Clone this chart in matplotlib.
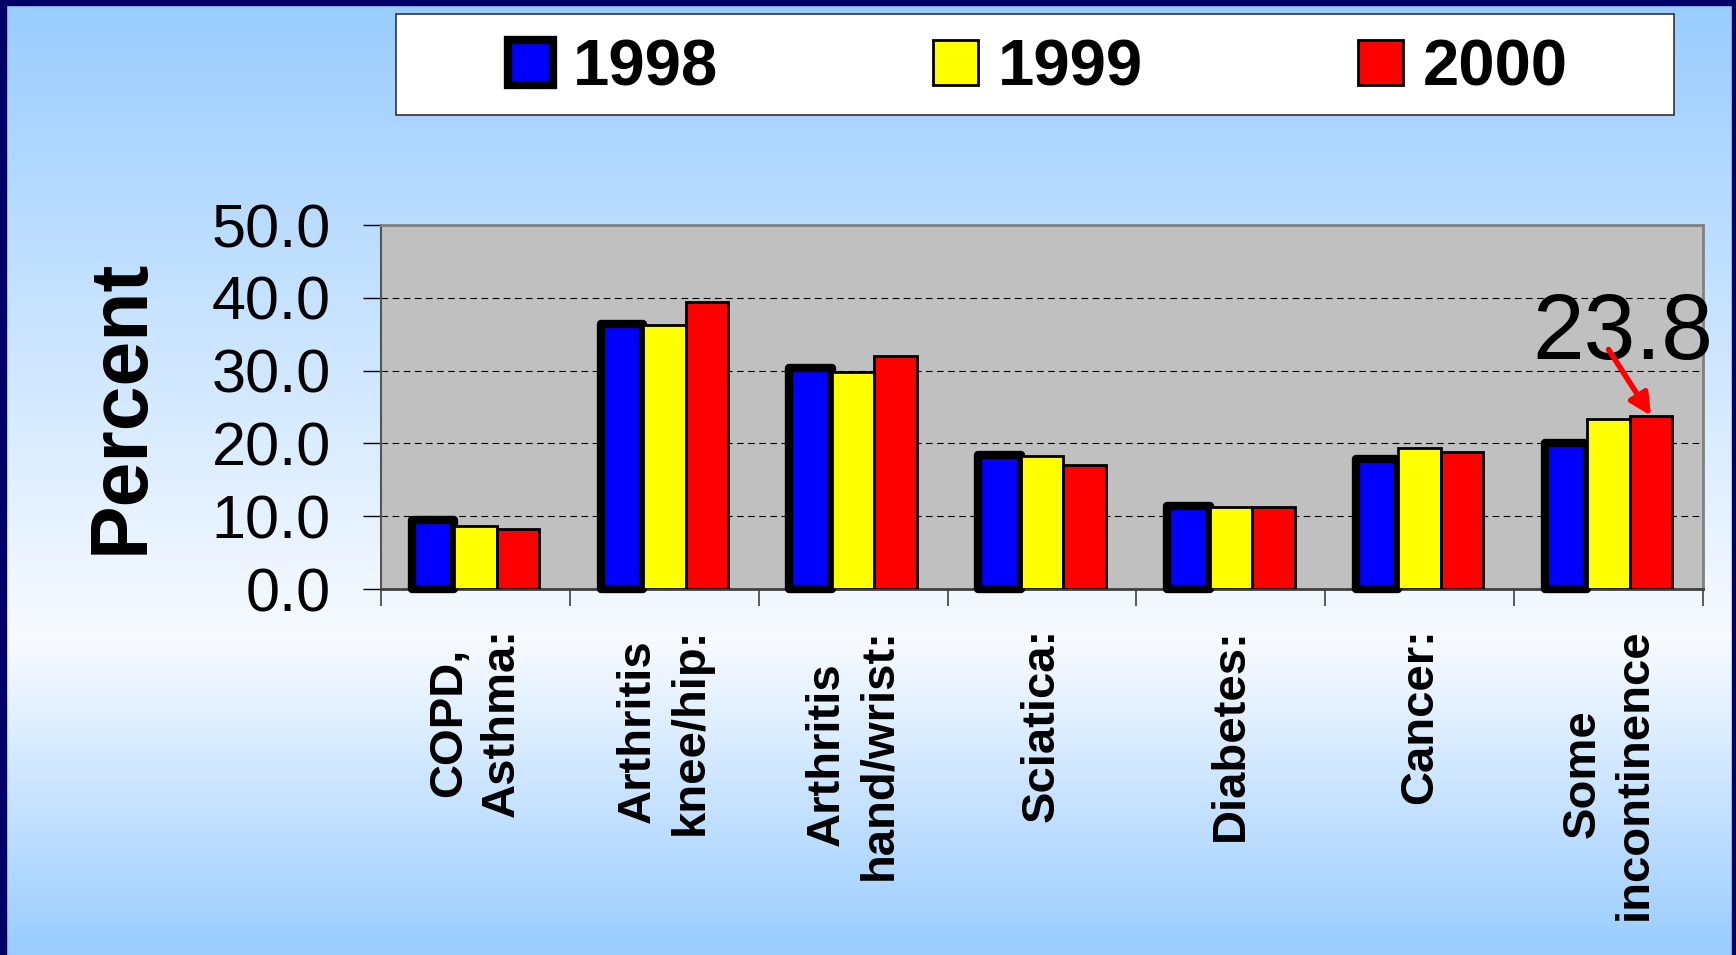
import numpy as np
import matplotlib
matplotlib.use("Agg")
import matplotlib.pyplot as plt
from matplotlib.patches import Patch, Rectangle
from matplotlib.colors import LinearSegmentedColormap

categories = ["COPD,\nAsthma:", "Arthritis\nknee/hip:", "Arthritis\nhand/wrist:",
              "Sciatica:", "Diabetes:", "Cancer:", "Some\nincontinence"]
years = ["1998", "1999", "2000"]
pct_1998 = [9.5, 36.4, 30.3, 18.4, 11.4, 17.9, 20.1]
pct_1999 = [8.7, 36.3, 29.8, 18.3, 11.3, 19.3, 23.3]
pct_2000 = [8.2, 39.4, 32.0, 17.1, 11.3, 18.8, 23.8]
y_ticks = [0, 10, 20, 30, 40, 50]
callout_label = "23.8"

plt.rcParams['font.family'] = ['Liberation Sans', 'DejaVu Sans']

W, H = 1736, 955
fig = plt.figure(figsize=(W / 100, H / 100), dpi=100)

# slide background: light blue -> almost white -> light blue
bg = fig.add_axes([0, 0, 1, 1], zorder=-5)
cmap = LinearSegmentedColormap.from_list(
    'slide', [(0, '#99CCFF'), (0.67, '#F8FBFF'), (1, '#99CCFF')])
bg.imshow(np.linspace(0, 1, 256).reshape(-1, 1), aspect='auto', cmap=cmap,
          extent=[0, 1, 0, 1])
bg.set_axis_off()

# navy slide frame
for x0, y0, w0, h0 in [(0, 0, 6 / W, 1), (0, 1 - 5 / H, 1, 5 / H), (1 - 4 / W, 0, 4 / W, 1)]:
    fig.patches.append(Rectangle((x0, y0), w0, h0, transform=fig.transFigure,
                                 color='#000066', zorder=10))

ax = fig.add_axes([381 / W, 1 - 589 / H, 1322 / W, 364 / H])
ax.set_facecolor('#C0C0C0')

x = np.arange(len(categories))
w = 0.225
ax.bar(x - w, pct_1998, w, color='blue', edgecolor='black', linewidth=6,
       joinstyle='round', zorder=3, clip_on=False)
ax.bar(x, pct_1999, w, color='yellow', edgecolor='black', linewidth=2, zorder=3)
ax.bar(x + w, pct_2000, w, color='red', edgecolor='black', linewidth=2, zorder=3)

ax.set_xlim(-0.5, len(categories) - 0.5)
ax.set_ylim(0, 50)
ax.yaxis.grid(True, linestyle=(0, (6, 4)), color='black', linewidth=0.8)
ax.set_axisbelow(True)

ax.set_yticks(y_ticks)
ax.set_yticklabels([f"{v:.1f}" for v in y_ticks])
ax.tick_params(axis='y', length=13, width=1, color='black', labelsize=44, pad=23)

ax.set_xticks(x)
ax.set_xticklabels(categories, rotation=90, fontsize=34, fontweight='bold',
                   multialignment='center', linespacing=1.25)
ax.tick_params(axis='x', which='major', length=0, pad=28)
ax.set_xticks(np.arange(-0.5, len(categories), 1), minor=True)
ax.tick_params(axis='x', which='minor', length=12, width=1.2, color='#404040')

for side in ['top', 'right']:
    ax.spines[side].set_color('#808080')
    ax.spines[side].set_linewidth(2)
ax.spines['left'].set_color('#555555')
ax.spines['left'].set_linewidth(1.5)
ax.spines['bottom'].set_color('#404040')
ax.spines['bottom'].set_linewidth(2)

fig.text(122 / W, 1 - 406 / H, 'Percent', rotation=90, ha='center', va='center',
         fontsize=58, fontweight='bold')

# callout on the 2000 incontinence bar
ax.text(6.075, 31.6, callout_label, ha='center', va='baseline', fontsize=67, zorder=6)
ax.annotate('', xy=(6 + w, pct_2000[-1]), xytext=(6.0, 32.9),
            arrowprops=dict(arrowstyle='-|>', color='red', lw=4,
                            mutation_scale=32, shrinkA=0, shrinkB=0),
            zorder=7, annotation_clip=False)

# legend box on top
fig.patches.append(Rectangle((396 / W, 1 - 115 / H), 1278 / W, 101 / H,
                             transform=fig.transFigure, facecolor='white',
                             edgecolor='#333333', linewidth=1.2, zorder=2))
handles = [Patch(facecolor='blue', edgecolor='black', linewidth=6, joinstyle='round'),
           Patch(facecolor='yellow', edgecolor='black', linewidth=2),
           Patch(facecolor='red', edgecolor='black', linewidth=2)]
fig.legend(handles, years, loc='center', bbox_to_anchor=(1038 / W, 1 - 68 / H),
           ncol=3, frameon=False, prop=dict(weight='bold', size=47),
           handlelength=0.69, handleheight=0.69, handletextpad=0.3,
           columnspacing=3.3)

fig.savefig('out.png', dpi=100)
